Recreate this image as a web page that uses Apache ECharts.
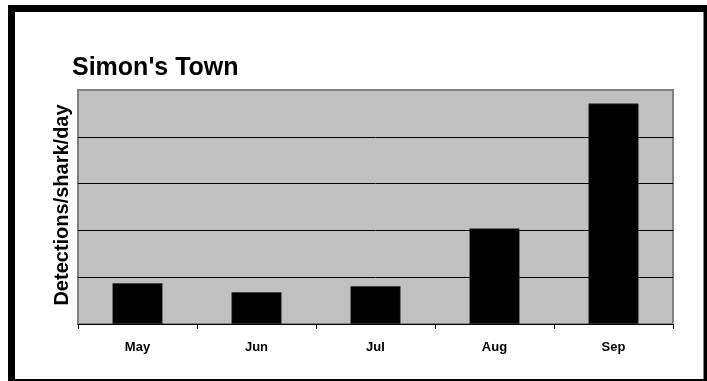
<!DOCTYPE html>
<html>
<head>
<meta charset="utf-8">
<script src="https://cdn.jsdelivr.net/npm/echarts@6/dist/echarts.min.js"></script>
<style>
  html, body { margin: 0; padding: 0; background: #fff; }
  #chart { width: 707px; height: 381px; }
</style>
</head>
<body>
<div id="chart"></div>
<script>
// Monthly detection rate at Simon's Town
const months = ['May', 'Jun', 'Jul', 'Aug', 'Sep'];
const detectionsPerSharkDay = [0.87, 0.68, 0.81, 2.04, 4.71];
const yMin = 0;
const yMax = 5;
const yStep = 1;

const font = '"Liberation Sans", Arial, Helvetica, sans-serif';
const chart = echarts.init(document.getElementById('chart'), null, { renderer: 'canvas' });

chart.setOption({
  backgroundColor: '#ffffff',
  animation: false,
  grid: {
    left: 78, right: 34, top: 90, bottom: 57,
    show: true,
    backgroundColor: '#c0c0c0',
    borderColor: '#808080',
    borderWidth: 2
  },
  xAxis: {
    type: 'category',
    data: months,
    boundaryGap: true,
    axisLine: { show: true, lineStyle: { color: '#000', width: 1 } },
    axisTick: { show: true, length: 5, lineStyle: { color: '#000', width: 1 } },
    axisLabel: {
      margin: 17,
      color: '#000',
      fontFamily: font,
      fontWeight: 'bold',
      fontSize: 13
    },
    splitLine: { show: false }
  },
  yAxis: {
    type: 'value',
    min: yMin,
    max: yMax,
    interval: yStep,
    axisLine: { show: false },
    axisTick: { show: false },
    axisLabel: { show: false },
    splitLine: {
      show: true,
      lineStyle: { color: ['#000', '#000', '#000', '#000', '#000', '#808080'], width: 1 }
    }
  },
  series: [{
    type: 'bar',
    data: detectionsPerSharkDay,
    barWidth: 50,
    itemStyle: { color: '#000', borderColor: '#303030', borderWidth: 0.6 }
  }],
  graphic: [
    {
      type: 'rect',
      silent: true,
      shape: { x: 11.5, y: 8.5, width: 695.5, height: 374 },
      style: { fill: null, stroke: '#000', lineWidth: 7 },
      z: 100
    },
    {
      type: 'text',
      left: 72, top: 56,
      style: {
        text: "Simon's Town",
        fill: '#000',
        font: 'bold 25px ' + font
      }
    },
    {
      type: 'text',
      x: 62, y: 205,
      rotation: Math.PI / 2,
      style: {
        text: 'Detections/shark/day',
        fill: '#000',
        font: 'bold 20px ' + font,
        align: 'center',
        verticalAlign: 'middle'
      }
    }
  ]
});
</script>
</body>
</html>
